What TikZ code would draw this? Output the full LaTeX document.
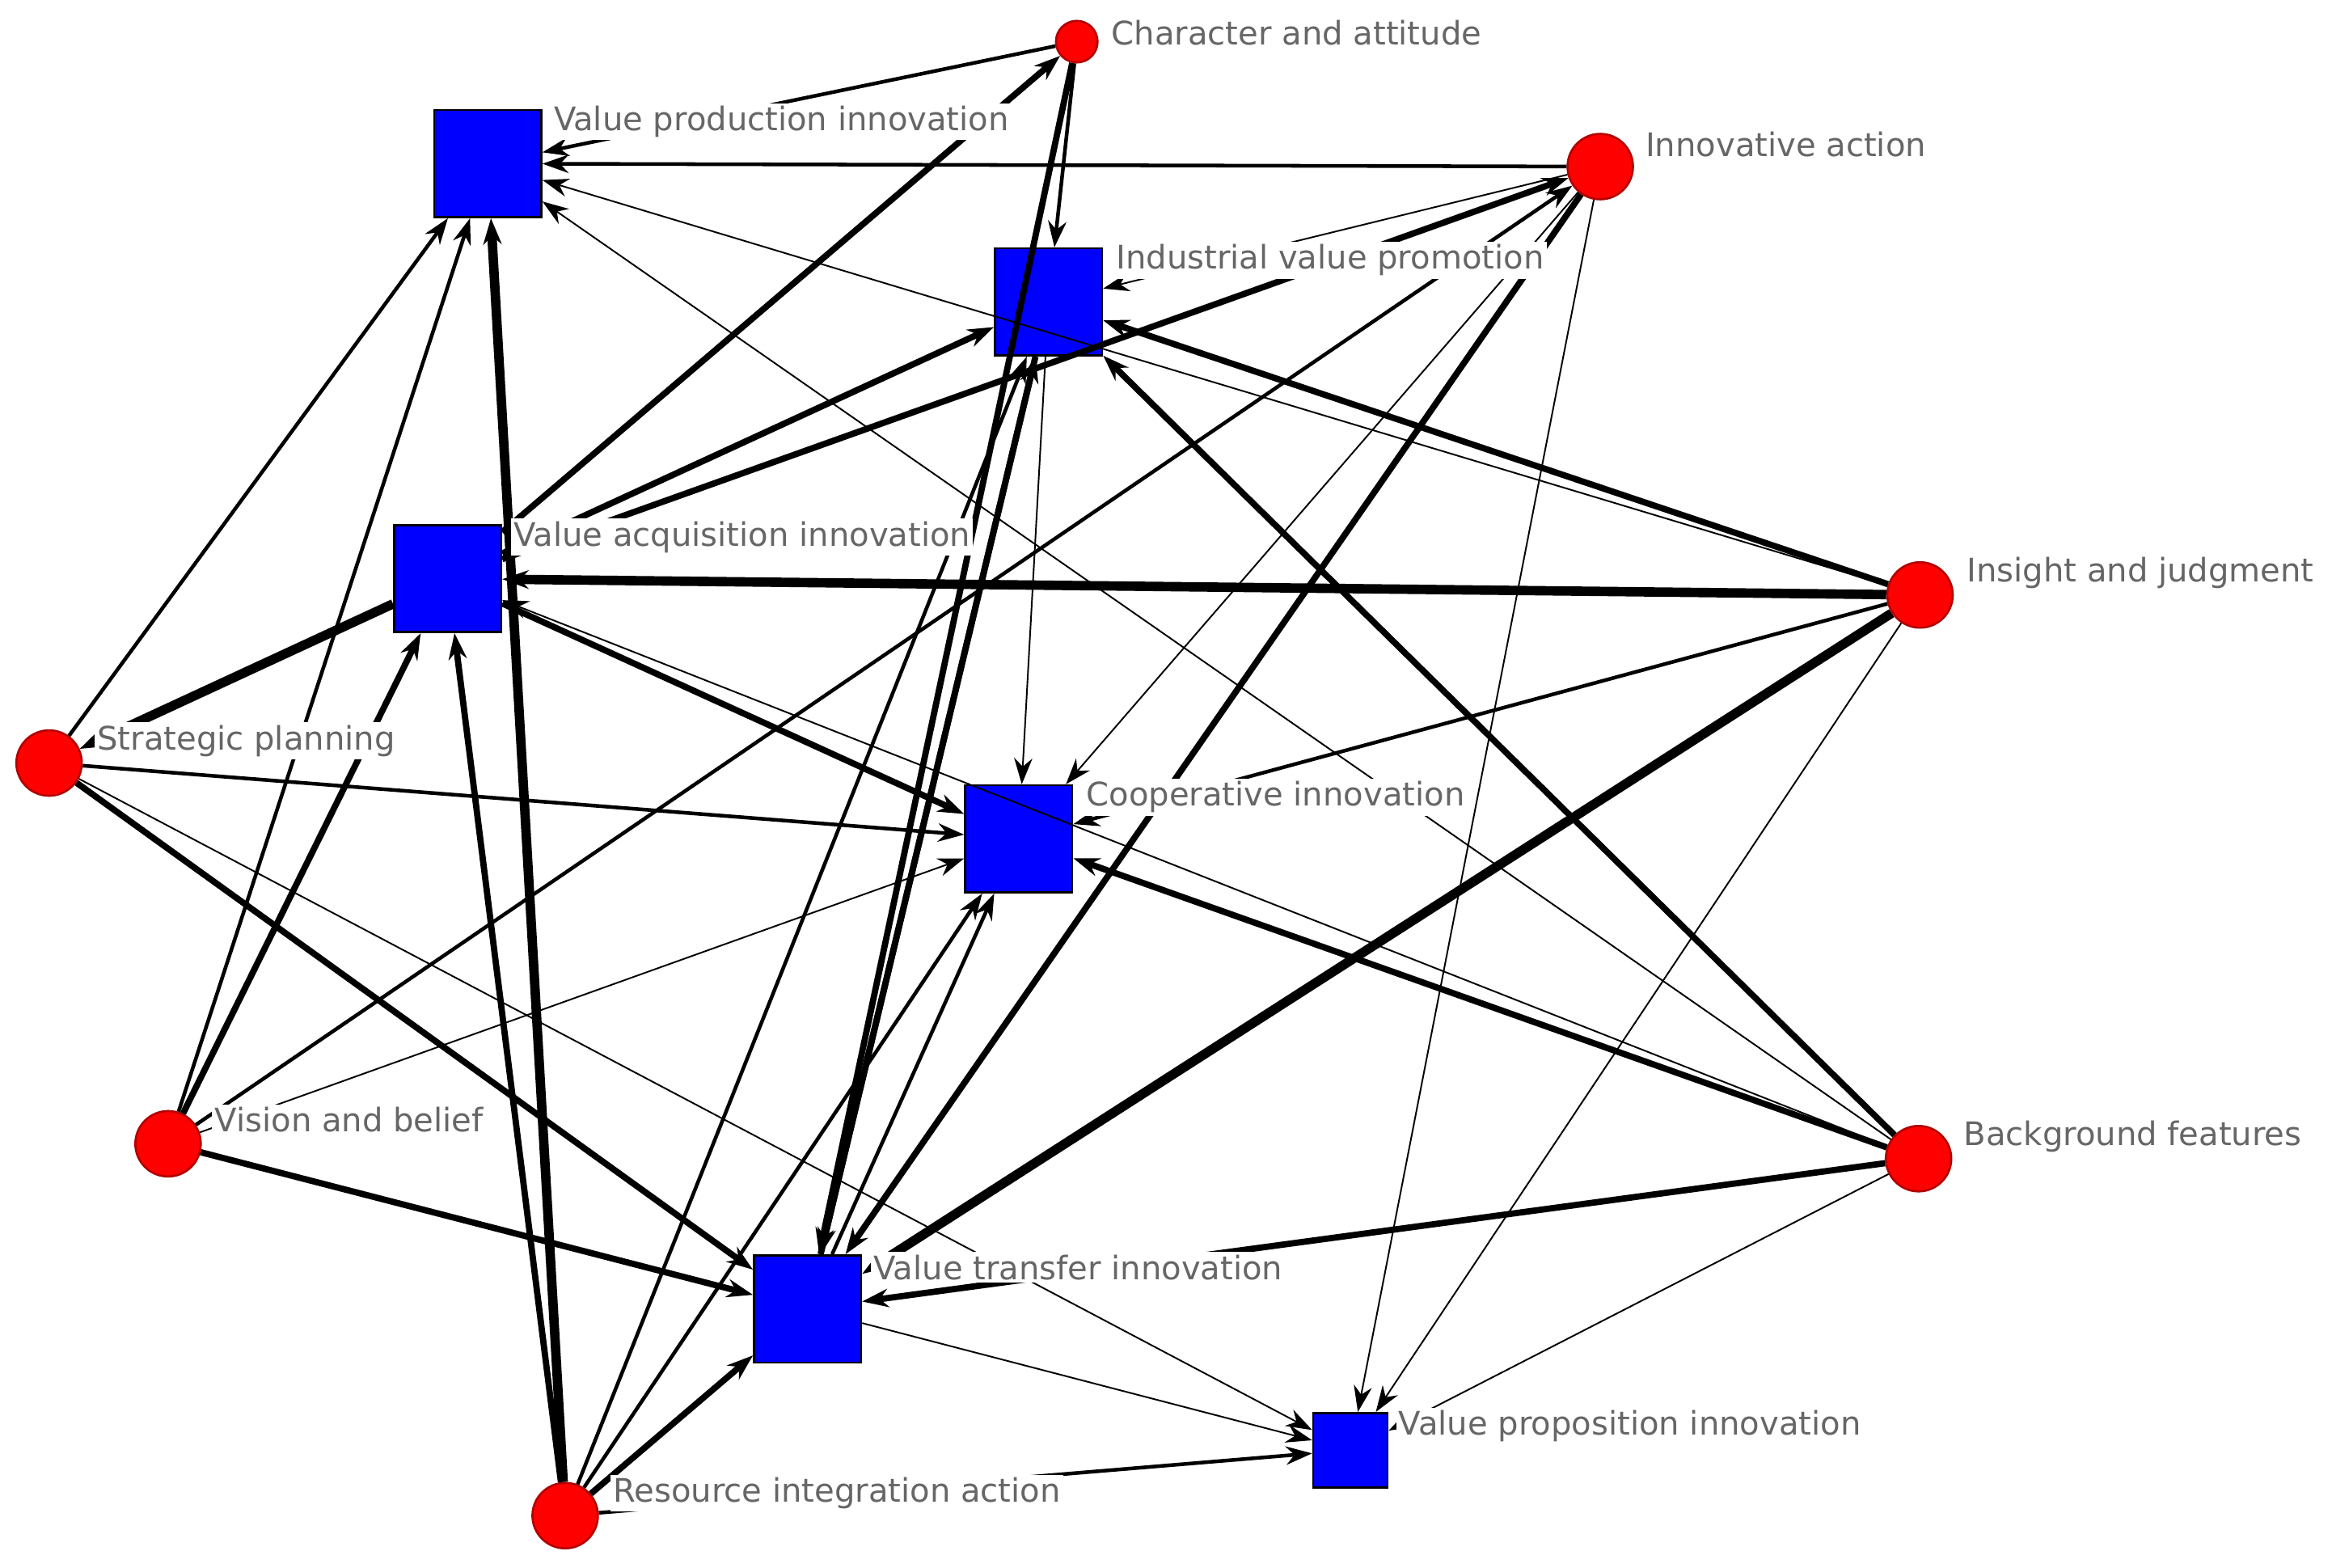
\documentclass[tikz,border=0pt]{standalone}
\usepackage{fontspec}
\setmainfont{DejaVu Sans}
\usetikzlibrary{arrows.meta}
\begin{document}
\begin{tikzpicture}[
  x=0.01cm, y=-0.01cm,
  actor/.style={circle, fill=red, draw=red!70!black, inner sep=0pt, minimum size=0.44cm},
  inno/.style={rectangle, fill=blue, draw=black, inner sep=0pt, minimum size=0.72cm},
  lbl/.style={anchor=west, text=gray!80!black, fill=white, font=\fontsize{6.2}{7.5}\selectfont, inner sep=0.5pt},
  ed/.style={-{Stealth[length=5pt,width=3.5pt]}},
  w1/.style={ed, line width=0.3pt},
  w2/.style={ed, line width=0.7pt},
  w3/.style={ed, line width=1.2pt},
  w4/.style={ed, line width=1.8pt},
]
\useasboundingbox (0,0) rectangle (1568,1054);

% actors
\node [actor, minimum size=0.28cm] (ca) at (724,28) {};
\node [actor] (ia) at (1076,112) {};
\node [actor] (ij) at (1291,400) {};
\node [actor] (bf) at (1290,779) {};
\node [actor] (sp) at (33,513) {};
\node [actor] (vb) at (113,769) {};
\node [actor] (ria) at (380,1019) {};

% innovations
\node [inno] (vp) at (328,110) {};
\node [inno] (ivp) at (705,203) {};
\node [inno] (va) at (301,389) {};
\node [inno] (co) at (685,564) {};
\node [inno] (vt) at (543,880) {};
\node [inno, minimum size=0.5cm] (vpr) at (908,975) {};

% links
\draw [w2] (ca) -- (vp);
\draw [w2] (ca) -- (ivp);
\draw [w3] (ca) -- (vt);
\draw [w3] (va) -- (ca);

\draw [w2] (ia) -- (vp);
\draw [w1] (ia) -- (ivp);
\draw [w3] (va) -- (ia);
\draw [w3] (ia) -- (vt);
\draw [w1] (ia) -- (vpr);
\draw [w1] (ia) -- (co);
\draw [w2] (vb) -- (ia);

\draw [w4] (ij) -- (va);
\draw [w3] (ij) -- (ivp);
\draw [w4] (ij) -- (vt);
\draw [w2] (ij) -- (co);
\draw [w1] (ij) -- (vpr);
\draw [w1] (ij) -- (vp);

\draw [w3] (bf) -- (co);
\draw [w1] (bf) -- (va);
\draw [w3] (bf) -- (ivp);
\draw [w3] (bf) -- (vt);
\draw [w1] (bf) -- (vpr);
\draw [w1] (bf) -- (vp);

\draw [w2] (sp) -- (vp);
\draw [w4] (va) -- (sp);
\draw [w2] (sp) -- (co);
\draw [w3] (sp) -- (vt);
\draw [w1] (sp) -- (vpr);

\draw [w2] (vb) -- (vp);
\draw [w3] (vb) -- (va);
\draw [w3] (vb) -- (vt);
\draw [w1] (vb) -- (co);

\draw [w4] (ria) -- (vp);
\draw [w3] (ria) -- (va);
\draw [w2] (ria) -- (ivp);
\draw [w2] (ria) -- (co);
\draw [w3] (ria) -- (vt);
\draw [w2] (ria) -- (vpr);

\draw [w3] (ivp) -- (vt);
\draw [w3] (vt) -- (ivp);
\draw [w3] (va) -- (ivp);
\draw [w3] (va) -- (co);
\draw [w1] (ivp) -- (co);
\draw [w1] (vt) -- (vpr);
\draw [w2] (vt) -- (co);

% labels
\node [lbl] at (745,22) {Character and attitude};
\node [lbl] at (1104,97) {Innovative action};
\node [lbl] at (1320,385) {Insight and judgment};
\node [lbl] at (1318,764) {Background features};
\node [lbl] at (63,498) {Strategic planning};
\node [lbl] at (142,753) {Vision and belief};
\node [lbl] at (410,1004) {Resource integration action};
\node [lbl] at (370,82) {Value production innovation};
\node [lbl] at (748,175) {Industrial value promotion};
\node [lbl] at (343,361) {Value acquisition innovation};
\node [lbl] at (728,536) {Cooperative innovation};
\node [lbl] at (585,852) {Value transfer innovation};
\node [lbl] at (938,959) {Value proposition innovation};
\end{tikzpicture}
\end{document}
